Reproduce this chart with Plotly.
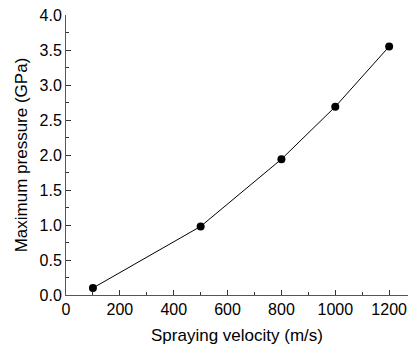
import plotly.graph_objects as go

# Spraying velocity (m/s) vs. maximum pressure (GPa)
velocity = [100, 500, 800, 1000, 1200]
pressure = [0.10, 0.98, 1.94, 2.69, 3.55]

x_ticks = [0, 200, 400, 600, 800, 1000, 1200]
y_ticks = [0.0, 0.5, 1.0, 1.5, 2.0, 2.5, 3.0, 3.5, 4.0]

font_family = "Liberation Sans"

fig = go.Figure()
fig.add_trace(go.Scatter(
    x=velocity, y=pressure,
    mode="lines+markers",
    line=dict(color="black", width=1),
    marker=dict(color="black", size=8),
    showlegend=False,
))

axis_common = dict(
    showgrid=False, zeroline=False, automargin=False,
    showline=True, linecolor="#555555", linewidth=1,
    ticks="inside", tickcolor="#333333", ticklen=5, tickwidth=1,
    ticklabeloverflow="allow",
    tickfont=dict(family=font_family, size=16, color="black"),
)

fig.update_xaxes(
    range=[0, 1270],
    tickvals=x_ticks,
    ticktext=[str(v) for v in x_ticks],
    minor=dict(dtick=100, tick0=0, ticks="inside", ticklen=3, tickcolor="#333333"),
    title=dict(text="Spraying velocity (m/s)", font=dict(family=font_family, size=17, color="black"), standoff=16),
    **axis_common,
)
fig.update_yaxes(
    range=[0, 4.0],
    tickvals=y_ticks,
    ticktext=[f"{v:.1f}" for v in y_ticks],
    minor=dict(dtick=0.25, tick0=0, ticks="inside", ticklen=3, tickcolor="#333333"),
    title=dict(text="Maximum pressure (GPa)", font=dict(family=font_family, size=17, color="black"), standoff=7),
    **axis_common,
)

fig.update_layout(
    width=408, height=345,
    margin=dict(l=66, r=0, t=15, b=50),
    paper_bgcolor="white", plot_bgcolor="white",
    font=dict(family=font_family),
)

fig.write_html("out.html")
